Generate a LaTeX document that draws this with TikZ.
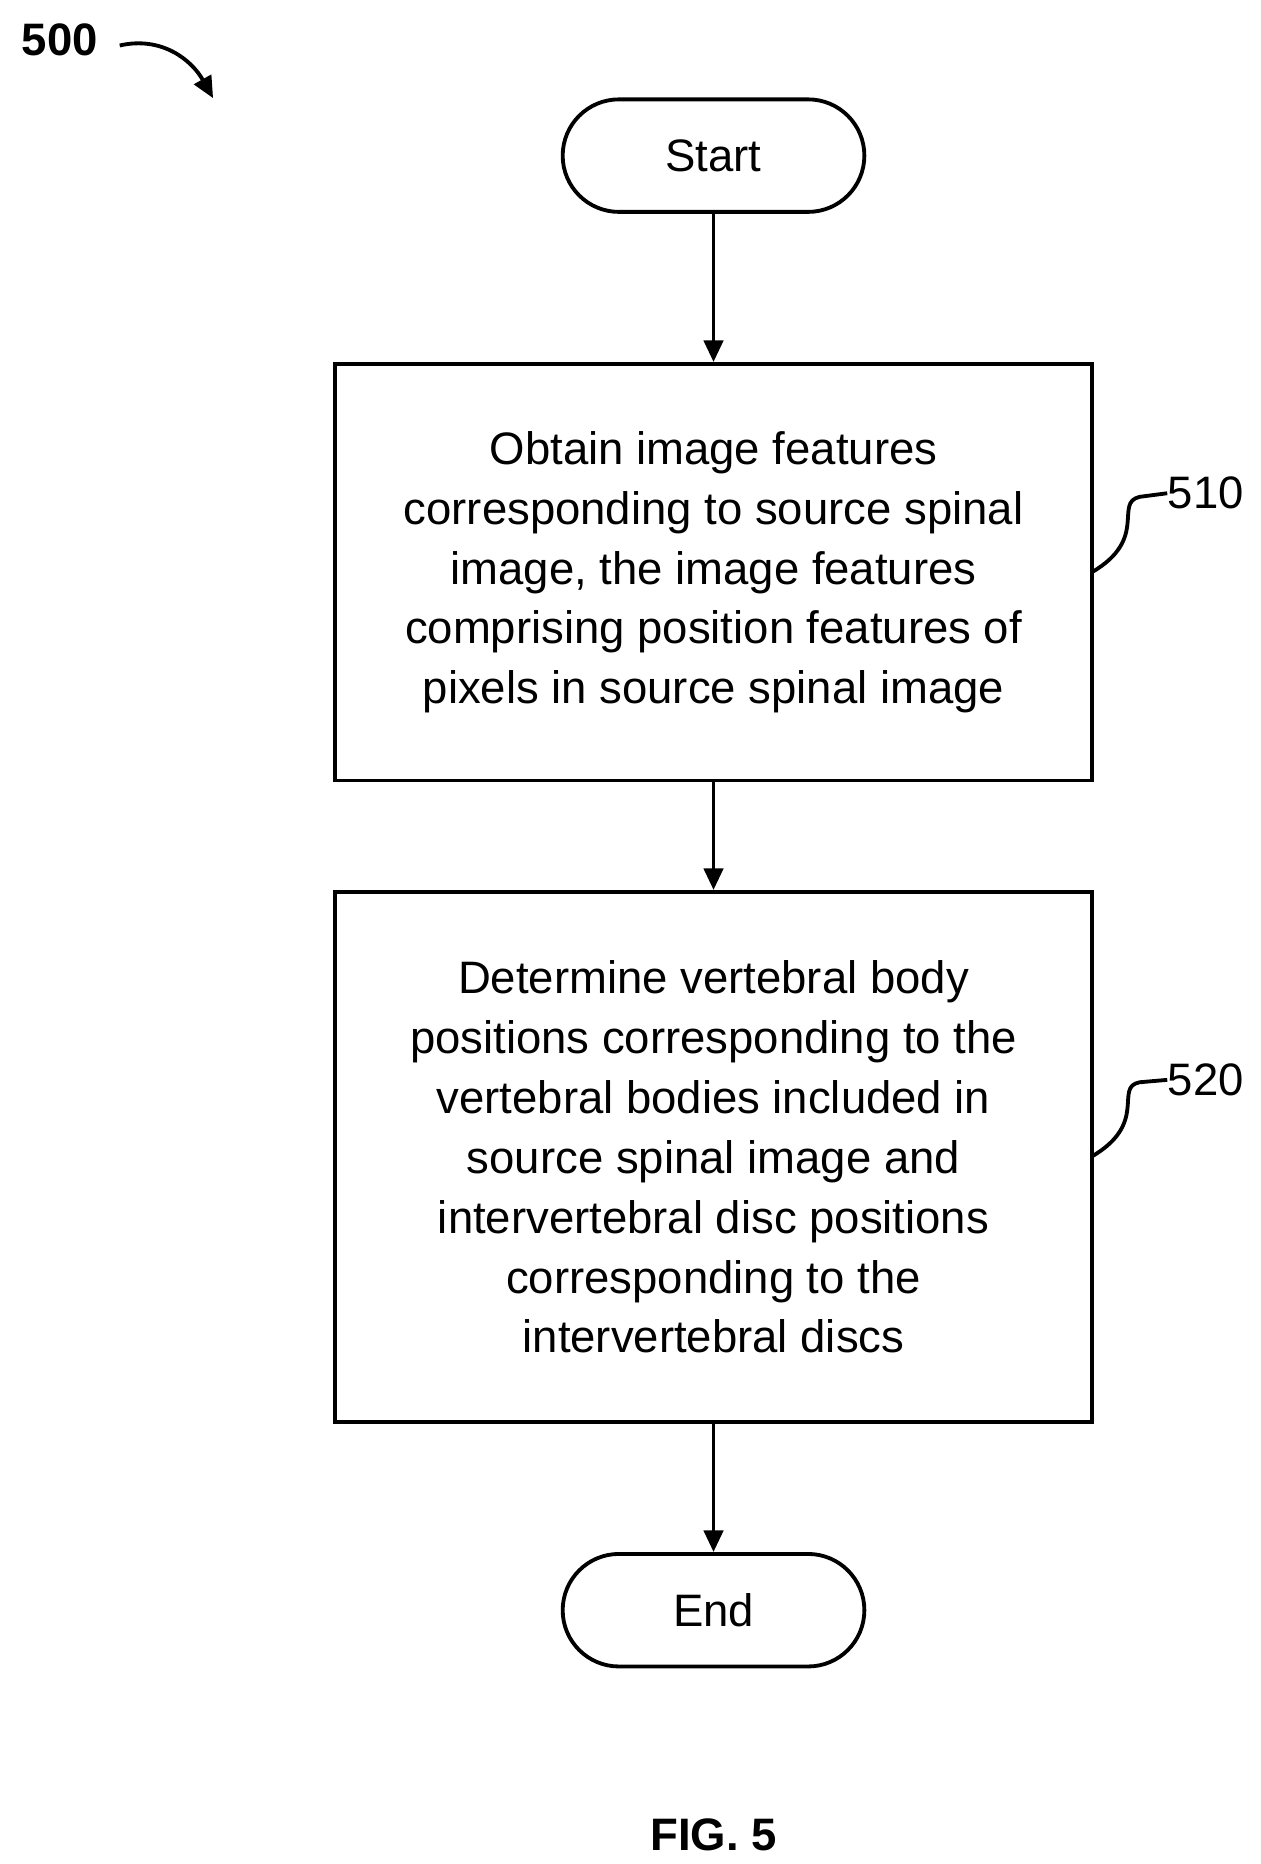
\documentclass[tikz,border=0pt]{standalone}
\usepackage{fontspec}
\setmainfont{Liberation Sans}
\usetikzlibrary{arrows.meta}
\begin{document}
\begin{tikzpicture}[x=0.5pt,y=-0.5pt,
  every node/.style={font=\fontsize{19}{25}\selectfont},
  term/.style={draw,line width=1.6pt,rounded corners=23.5pt,minimum width=126pt,minimum height=47pt,inner sep=0pt},
  box/.style={draw,line width=1.6pt,minimum width=316pt,inner sep=0pt,align=center},
  arr/.style={line width=1.6pt,-{Triangle[length=9pt,width=8pt]}},
  lead/.style={line width=1.6pt}]
\useasboundingbox (0,0) rectangle (1053,1557);
\node[term] (s) at (596,130) {Start};
\node[box,minimum height=174pt] (b1) at (596,478) {Obtain image features\\corresponding to source spinal\\image, the image features\\comprising position features of\\pixels in source spinal image};
\node[box,minimum height=221.5pt] (b2) at (596,966.5) {Determine vertebral body\\positions corresponding to the\\vertebral bodies included in\\source spinal image and\\intervertebral disc positions\\corresponding to the\\intervertebral discs};
\node[term] (e) at (596,1345) {End};
\draw[arr] (s) -- (b1);
\draw[arr] (b1) -- (b2);
\draw[arr] (b2) -- (e);
\node[anchor=west,inner sep=0pt] (l1) at (975,412) {510};
\node[anchor=west,inner sep=0pt] (l2) at (975,902) {520};
\coordinate (p1) at (912,478);
\coordinate (p2) at (912,966);
\draw[lead] (p1) .. controls (960,450) and (930,420) .. (952,415) -- (l1.west);
\draw[lead] (p2) .. controls (960,938) and (930,908) .. (952,904) -- (l2.west);
\node[font=\bfseries\fontsize{19}{22}\selectfont] (n) at (50,33) {500};
\coordinate (na) at (178,82);
\draw[line width=1.6pt,-{Triangle[length=9pt,width=8pt]}] (100,38) .. controls (135,30) and (160,50) .. (na);
\node[font=\bfseries\fontsize{19}{22}\selectfont] (fig) at (596,1533) {FIG. 5};
\end{tikzpicture}
\end{document}
